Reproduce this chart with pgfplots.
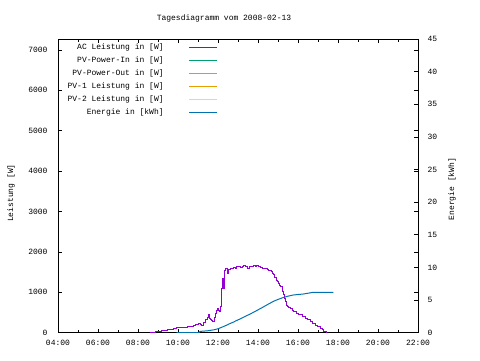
\documentclass[border=0pt]{standalone}
\usepackage{pgfplots}
\pgfplotsset{compat=1.18}
\usepackage{fontspec}
\setmonofont{Liberation Mono}
\definecolor{cAC}{HTML}{9400D3}
\definecolor{cIn}{HTML}{009E73}
\definecolor{cOut}{HTML}{56B4E9}
\definecolor{cPVa}{HTML}{E69F00}
\definecolor{cPVb}{HTML}{F0E442}
\definecolor{cE}{HTML}{0072B2}
\newcommand{\gf}{\ttfamily\fontsize{8}{9}\selectfont}
\begin{document}
\begin{tikzpicture}[x=1pt,y=1pt]
\useasboundingbox (0,0) rectangle (480,360);
\begin{axis}[
  at={(58pt,27.3pt)}, anchor=south west,
  scale only axis, width=360pt, height=293.7pt,
  xmin=4, xmax=22, ymin=0, ymax=7270,
  xtick={4,6,...,22},
  xticklabels={04:00,06:00,08:00,10:00,12:00,14:00,16:00,18:00,20:00,22:00},
  minor xtick={5,7,...,21},
  ytick={0,1000,...,7000},
  yticklabels={0,1000,2000,3000,4000,5000,6000,7000},
  tick align=inside,
  major tick length=4pt, minor tick length=3pt,
  axis line style={line width=0.8pt},
  tick style={line width=0.8pt, black},
  ticklabel style={font=\gf},
  xticklabel style={yshift=-4pt},
  yticklabel style={xshift=-7pt},
  legend plot pos=right,
  legend cell align=right,
  legend image code/.code={\draw[#1] (0pt,0pt) -- (28pt,0pt);},
  legend style={at={(0.444,0.983)}, anchor=north east, draw=none, fill=none,
    font=\gf, inner sep=0pt, row sep=6pt,
    nodes={inner sep=0pt, text height=5.5pt, text depth=1.5pt},
    /tikz/every odd column/.append style={column sep=25pt}},
]
\addplot[const plot, color=cAC, line width=1pt] coordinates {
(8.6,0)(8.85,20)(9.0,40)(9.15,45)(9.27,60)(9.45,70)(9.6,85)(9.75,100)(9.93,130)(10.1,135)(10.27,140)(10.45,150)(10.6,160)(10.75,190)(10.85,210)(10.95,200)(11.02,230)(11.1,210)(11.18,190)(11.27,260)(11.35,315)(11.45,380)(11.52,440)(11.57,360)(11.6,315)(11.67,290)(11.73,270)(11.8,380)(11.85,480)(11.92,560)(11.97,600)(12.02,560)(12.07,520)(12.13,640)(12.18,1100)(12.21,1350)(12.25,1250)(12.27,1100)(12.3,1550)(12.35,1600)(12.4,1580)(12.47,1470)(12.53,1560)(12.6,1580)(12.7,1600)(12.77,1610)(12.85,1590)(12.93,1630)(13.02,1650)(13.1,1620)(13.2,1640)(13.27,1660)(13.35,1640)(13.43,1640)(13.48,1600)(13.55,1630)(13.65,1640)(13.77,1660)(13.85,1650)(13.93,1670)(14.02,1640)(14.1,1620)(14.2,1600)(14.27,1580)(14.35,1600)(14.45,1560)(14.52,1550)(14.6,1530)(14.68,1510)(14.73,1470)(14.77,1430)(14.83,1360)(14.9,1300)(14.95,1260)(15.02,1220)(15.08,1180)(15.13,1140)(15.2,1060)(15.23,1015)(15.27,950)(15.3,850)(15.35,760)(15.4,685)(15.47,650)(15.52,620)(15.6,590)(15.7,550)(15.77,520)(15.9,480)(16.0,460)(16.1,440)(16.2,400)(16.35,355)(16.45,320)(16.6,270)(16.7,240)(16.85,190)(16.95,160)(17.1,110)(17.2,70)(17.27,40)(17.35,20)(17.43,0)
};
\addlegendentry{AC Leistung in [W]}
\addlegendimage{color=cIn, line width=1pt}
\addlegendentry{PV-Power-In in [W]}
\addlegendimage{color=cOut, line width=1pt}
\addlegendentry{PV-Power-Out in [W]}
\addlegendimage{color=cPVa, line width=1pt}
\addlegendentry{PV-1 Leistung in [W]}
\addlegendimage{color=cPVb, line width=1pt}
\addlegendentry{PV-2 Leistung in [W]}
\addlegendimage{color=cE, line width=1pt}
\addlegendentry{Energie in [kWh]}
\end{axis}
\begin{axis}[
  at={(58pt,27.3pt)}, anchor=south west,
  scale only axis, width=360pt, height=293.7pt,
  xmin=4, xmax=22, ymin=0, ymax=45,
  axis x line=none, axis y line*=right,
  ytick={0,5,...,45},
  yticklabels={0,5,10,15,20,25,30,35,40,45},
  tick align=inside, major tick length=4pt,
  axis line style={line width=0.8pt},
  tick style={line width=0.8pt, black},
  ticklabel style={font=\gf},
  yticklabel style={xshift=6pt},
]
\addplot[color=cE, line width=1pt] coordinates {
(9.93,0)(11.05,0)(11.1,0.2)(11.5,0.3)(11.8,0.45)(12.0,0.6)(12.2,0.85)(12.43,1.15)(12.6,1.4)(12.77,1.62)(12.93,1.87)(13.1,2.1)(13.27,2.35)(13.43,2.6)(13.6,2.85)(13.77,3.12)(14.0,3.5)(14.27,3.95)(14.5,4.35)(14.77,4.8)(15.0,5.1)(15.27,5.4)(15.5,5.6)(15.77,5.78)(16.0,5.85)(16.27,5.93)(16.5,6.05)(16.77,6.19)(17.77,6.19)
};
\end{axis}
\node[font=\gf] at (224,342) {Tagesdiagramm vom 2008-02-13};
\node[font=\gf, rotate=90] at (11,167) {Leistung [W]};
\node[font=\gf, rotate=90] at (452,171) {Energie [kWh]};
\end{tikzpicture}
\end{document}
